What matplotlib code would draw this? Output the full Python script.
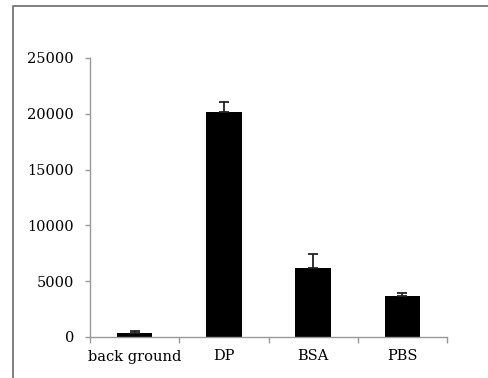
import matplotlib
matplotlib.use("Agg")
import matplotlib.pyplot as plt
from matplotlib.lines import Line2D

categories = ["back ground", "DP", "BSA", "PBS"]
values = [330, 20150, 6200, 3650]
errors = [180, 900, 1250, 250]
yticks = [0, 5000, 10000, 15000, 20000, 25000]

plt.rcParams['font.family'] = ['DejaVu Serif']

fig = plt.figure(figsize=(4.88, 3.78), dpi=100)
ax = fig.add_axes([90/488, 1-337/378, (447-90)/488, (337-58)/378])

x = range(len(categories))
ax.bar(x, values, width=0.4, color='black', zorder=2)
ax.errorbar(x, values, yerr=[[0]*len(values), errors], fmt='none',
            ecolor='#222222', elinewidth=1.3, capsize=3.5, capthick=1.3, zorder=3)

ax.set_xlim(-0.5, len(categories)-0.5)
ax.set_ylim(0, 25000)
ax.set_yticks(yticks)
ax.set_yticklabels([str(t) for t in yticks], fontsize=10.5)
ax.set_xticks(list(x))
ax.set_xticklabels(categories, fontsize=10.5)
ax.set_xticks([i - 0.5 for i in range(len(categories)+1)], minor=True)
ax.tick_params(axis='x', which='major', length=0, pad=9)
ax.tick_params(axis='x', which='minor', length=4, width=1, color='#999999', direction='out')
ax.tick_params(axis='y', length=3.5, width=1, color='#999999', direction='out', pad=8)

for s in ['top', 'right']:
    ax.spines[s].set_visible(False)
for s in ['left', 'bottom']:
    ax.spines[s].set_color('#999999')
    ax.spines[s].set_linewidth(1)

# outer frame
fx = 12.5/488
fy = 1 - 5.5/378
fig.add_artist(Line2D([fx, fx, 1.0], [0, fy, fy], transform=fig.transFigure,
                      color='#808080', linewidth=1.4))

fig.savefig("out.png", dpi=100)
